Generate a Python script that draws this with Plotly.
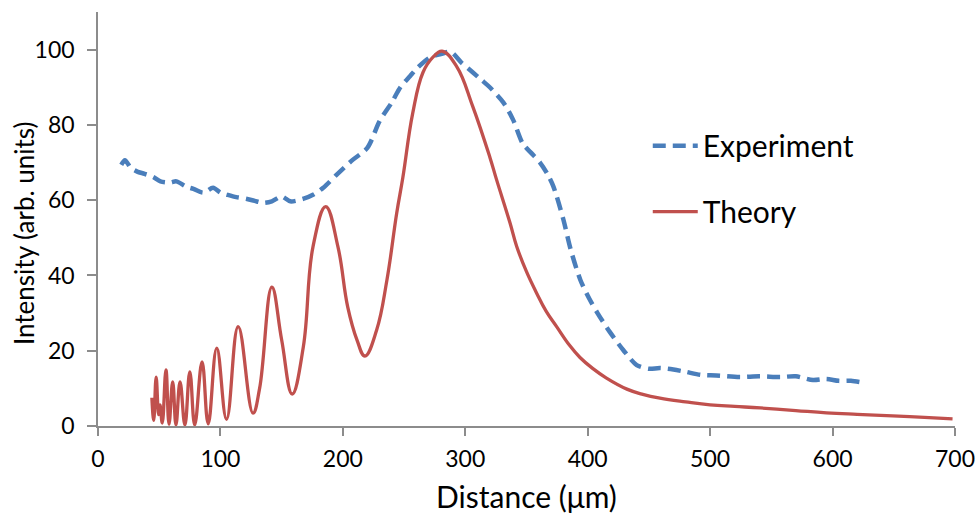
import plotly.graph_objects as go

# Experiment (dashed blue)
exp_x = [19, 22, 27, 32, 38, 45, 51, 59, 64, 72, 78, 86, 94, 100, 106, 113, 121, 128, 135, 142,
         150, 157, 168, 176, 184, 195, 208, 220, 230, 240, 247, 255, 261, 271, 280, 288, 297, 306,
         313, 320, 331, 339, 347, 354, 361, 367, 372, 380, 386, 394, 401, 408, 418, 429, 440, 450,
         459, 470, 480, 492, 505, 524, 540, 557, 570, 584, 595, 605, 615, 622]
exp_y = [69.4, 70.6, 68.5, 67.6, 67, 66.2, 65, 64.7, 65, 63.6, 63, 62, 63.3, 62, 61.4, 60.8, 60.4,
         59.8, 59.3, 59.7, 61, 59.7, 60.4, 61.5, 63.3, 66.8, 70.7, 73.9, 81, 86, 90, 93, 95.2, 97.9,
         98.8, 99.4, 96.5, 94, 92, 90, 86, 81.4, 75, 72.5, 70, 67, 63.6, 55, 47, 38.8, 34, 30, 25,
         20.2, 16.2, 15.2, 15.4, 15, 14.4, 13.6, 13.4, 13, 13.2, 13, 13.2, 12.2, 12.5, 12, 12, 11.7]

# Theory (solid red)
th_x = [44, 45.5, 47.5, 49.5, 50.6, 52.5, 55.5, 58, 61, 63.7, 67, 71, 75, 79, 85, 90, 97, 105,
        114.5, 126.6, 132, 142, 150, 158.6, 167.7, 175.6, 186, 196, 204, 211.5, 218, 227.6, 236,
        244, 249, 257, 265.5, 273.6, 281, 293, 306, 320, 325.6, 336.5, 342, 350, 358.3, 366,
        374.6, 385, 393.7, 404, 415, 432, 445, 459, 480, 500, 520, 541, 570, 595, 620, 649, 675, 698]
th_y = [7.5, 1.5, 13, 3, 5.6, 0.8, 14.9, 0.5, 11.7, 0.3, 11.7, 0.3, 14.4, 0.3, 17, 0.6, 20.7, 1.8,
        26.4, 3.4, 10, 36.9, 22.9, 8.5, 21, 47.6, 58.3, 47.6, 31.6, 22.9, 18.6, 25.5, 38.8, 56.6,
        66, 83, 94, 98, 99.6, 95.5, 85, 71.5, 65.4, 54, 47.7, 41, 35.3, 30.5,
        26.4, 21.5, 18.2, 15.3, 12.8, 9.8, 8.4, 7.4, 6.4, 5.6, 5.2, 4.8, 4.1, 3.5, 3.1, 2.7, 2.3, 1.9]

x_ticks = [0, 100, 200, 300, 400, 500, 600, 700]
y_ticks = [0, 20, 40, 60, 80, 100]

FONT = "Lato"
AXIS_COLOR = "#8c8c8c"

fig = go.Figure()
fig.add_trace(go.Scatter(
    x=exp_x, y=exp_y, mode="lines", name="Experiment", legendgroup="e",
    line=dict(color="#4a7ebb", width=4.5, dash="13px,7px", shape="spline", smoothing=0.8),
))
fig.add_trace(go.Scatter(
    x=th_x, y=th_y, mode="lines", name="Theory", legendgroup="t",
    line=dict(color="#c0504d", width=3.3, shape="spline", smoothing=1.2),
))

fig.update_layout(
    width=977, height=514,
    margin=dict(l=98, r=22, t=12, b=88),
    paper_bgcolor="white", plot_bgcolor="white",
    font=dict(family=FONT, color="#000000"),
    legend=dict(
        x=0.6415, y=0.740, xanchor="left", yanchor="top",
        font=dict(family=FONT, size=30, color="#000000"),
        bgcolor="rgba(0,0,0,0)", tracegroupgap=24, itemwidth=45,
    ),
    showlegend=True,
    annotations=[dict(
        text="Intensity (arb. units)", textangle=-90, showarrow=False,
        xref="paper", yref="paper", x=0, y=0.466, xshift=-74,
        xanchor="center", yanchor="middle",
        font=dict(family=FONT, size=26, color="#000000"),
    )],
)
fig.update_xaxes(
    range=[0, 700], tickvals=x_ticks, ticktext=[str(v) for v in x_ticks],
    showgrid=False, zeroline=False, showline=True, linecolor=AXIS_COLOR, linewidth=1.5,
    ticks="outside", ticklen=8, tickcolor=AXIS_COLOR, tickwidth=1.5, automargin=False,
    ticklabelstandoff=4,
    tickfont=dict(family=FONT, size=23, color="#000000"),
    title=dict(text="Distance (\u03bcm)", font=dict(family=FONT, size=30, color="#000000"), standoff=16),
)
fig.update_yaxes(
    range=[0, 110], tickvals=y_ticks, ticktext=[str(v) for v in y_ticks],
    showgrid=False, zeroline=False, showline=True, linecolor=AXIS_COLOR, linewidth=1.5,
    ticks="outside", ticklen=9, tickcolor=AXIS_COLOR, tickwidth=1.5, automargin=False,
    ticklabelstandoff=8,
    tickfont=dict(family=FONT, size=23, color="#000000"),
)

fig.write_html("out.html", config={"displayModeBar": False},
               post_script="document.body.style.margin='0';")
